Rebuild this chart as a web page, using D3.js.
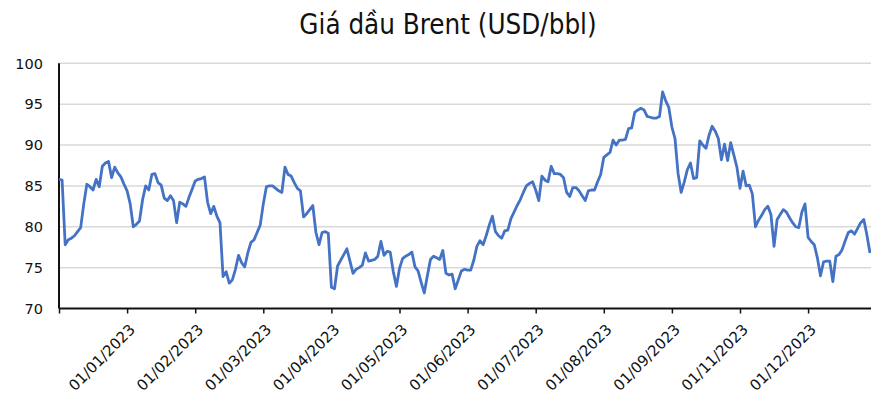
<!DOCTYPE html>
<html>
<head>
<meta charset="utf-8">
<script src="https://cdn.jsdelivr.net/npm/d3@7"></script>
<style>
  body { margin: 0; background: #fff; }
  svg { display: block; }
</style>
</head>
<body>
<div id="chart"></div>
<script>
// Brent daily closes, one value per trading day
var prices = [
  // to 01/01
  85.8, 85.7, 77.8, 78.4, 78.6, 78.9, 79.4, 79.9, 82.8, 85.2, 84.9, 84.5, 85.8, 84.9, 87.4, 87.8, 88.0, 86.0, 87.3, 86.6, 86.1, 85.2, 84.4,
  // to 01/02
  82.8, 80.0, 80.3, 80.7, 83.3, 85.0, 84.5, 86.4, 86.5, 85.4, 85.1, 83.5, 83.2, 83.8, 83.2, 80.5, 83.0, 82.8, 82.5, 83.6, 84.6, 85.6,
  // to 01/03
  85.8, 85.9, 86.1, 83.0, 81.6, 82.5, 81.3, 80.5, 73.9, 74.5, 73.1, 73.5, 74.8, 76.5, 75.6, 75.1, 76.8, 78.1, 78.4, 79.3, 80.2, 82.8,
  // to 01/04
  84.9, 85.0, 85.0, 84.7, 84.4, 84.2, 87.3, 86.4, 86.2, 85.4, 84.7, 84.4, 81.2, 81.6, 82.1, 82.6, 79.3, 77.8, 79.3, 79.4, 79.2, 72.6,
  // to 01/05
  72.4, 75.2, 75.9, 76.6, 77.3, 75.8, 74.3, 74.8, 75.0, 75.3, 76.8, 75.8, 75.9, 76.0, 76.4, 78.2, 76.5, 77.0, 76.9, 74.5, 72.7, 74.9,
  // to 01/06
  76.1, 76.4, 76.6, 76.9, 75.1, 74.6, 73.2, 71.9, 74.0, 76.0, 76.4, 76.2, 76.0, 77.1, 74.3, 74.1, 74.2, 72.4, 73.5, 74.6, 74.8, 74.7,
  // to 01/07
  74.7, 75.9, 77.6, 78.3, 77.8, 78.9, 80.2, 81.3, 79.4, 78.9, 78.6, 79.5, 79.6, 81.0, 81.8, 82.6, 83.3, 84.2, 85.0, 85.3, 85.5, 84.5,
  // to 01/08
  83.2, 86.2, 85.7, 85.5, 87.4, 86.5, 86.5, 86.4, 86.0, 84.2, 83.7, 84.8, 84.8, 84.4, 83.8, 83.2, 84.4, 84.5, 84.5, 85.5, 86.4, 88.5,
  // to 01/09
  88.8, 89.1, 90.6, 90.0, 90.6, 90.6, 90.7, 92.0, 92.1, 94.0, 94.3, 94.5, 94.3, 93.5, 93.4, 93.3, 93.3, 93.5, 96.5, 95.4, 94.6, 92.2,
  // to 01/11
  90.8, 86.5, 84.2, 85.5, 87.0, 87.8, 85.9, 86.0, 90.5, 90.0, 89.6, 91.2, 92.3, 91.7, 90.8, 88.2, 90.1, 88.1, 90.3, 88.8, 87.3, 84.7,
  // to 01/12
  86.8, 85.0, 85.1, 84.0, 80.0, 80.8, 81.4, 82.1, 82.5, 81.5, 77.6, 80.9, 81.5, 82.1, 81.8, 81.1, 80.5, 80.0, 79.9, 81.8, 82.8, 78.7,
  // December
  78.2, 77.8, 76.2, 74.0, 75.7, 75.8, 75.8, 73.3, 76.4, 76.6, 77.2, 78.3, 79.3, 79.5, 79.1, 79.8, 80.5, 80.9, 79.0, 76.8
];

// category labels shown every 22 trading days
var tickIndex = [22, 44, 66, 88, 110, 132, 154, 176, 198, 220, 242];
var tickLabels = ["01/01/2023", "01/02/2023", "01/03/2023", "01/04/2023", "01/05/2023", "01/06/2023",
                  "01/07/2023", "01/08/2023", "01/09/2023", "01/11/2023", "01/12/2023"];
var yTicks = [70, 75, 80, 85, 90, 95, 100];

var width = 871, height = 401;
var plotLeft = 59, plotRight = 870, plotTop = 63.3, plotBottom = 308.5;

var svg = d3.select("#chart").append("svg")
    .attr("width", width)
    .attr("height", height);

var x = d3.scaleLinear().domain([0, prices.length - 1]).range([plotLeft, plotRight]);
var y = d3.scaleLinear().domain([70, 100]).range([plotBottom, plotTop]);

// title
svg.append("text")
    .attr("x", 448)
    .attr("y", 34)
    .attr("text-anchor", "middle")
    .style("font-family", "'DejaVu Sans Condensed', 'DejaVu Sans', sans-serif")
    .style("font-size", "27.5px")
    .style("fill", "#111")
    .text("Giá dầu Brent (USD/bbl)");

// gridlines
svg.append("g")
    .selectAll("line")
    .data(yTicks.slice(1))
    .enter().append("line")
    .attr("x1", plotLeft)
    .attr("x2", width)
    .attr("y1", function(d) { return y(d); })
    .attr("y2", function(d) { return y(d); })
    .style("stroke", "#d9d9d9")
    .style("stroke-width", 1.5);

// y axis labels
svg.append("g")
    .selectAll("text")
    .data(yTicks)
    .enter().append("text")
    .attr("x", 43)
    .attr("y", function(d) { return y(d); })
    .attr("dy", "0.36em")
    .attr("text-anchor", "end")
    .style("font-family", "'DejaVu Sans', sans-serif")
    .style("font-size", "14.5px")
    .style("fill", "#111")
    .text(function(d) { return d; });

// x axis with ticks below the line
var xAxis = d3.axisBottom(x)
    .tickValues([0].concat(tickIndex))
    .tickSize(5)
    .tickFormat("");

var gx = svg.append("g")
    .attr("transform", "translate(0," + plotBottom + ")")
    .call(xAxis);
gx.select(".domain").remove();
gx.selectAll(".tick line").style("stroke", "#111").style("stroke-width", 1.5);

svg.append("line")
    .attr("x1", plotLeft).attr("x2", width)
    .attr("y1", plotBottom).attr("y2", plotBottom)
    .style("stroke", "#111")
    .style("stroke-width", 2);

svg.append("line")
    .attr("x1", plotLeft).attr("x2", plotLeft)
    .attr("y1", plotTop).attr("y2", plotBottom)
    .style("stroke", "#111")
    .style("stroke-width", 2);

// rotated date labels
svg.append("g")
    .selectAll("text")
    .data(tickIndex)
    .enter().append("text")
    .attr("transform", function(d) {
        return "translate(" + (x(d) + 9) + "," + (plotBottom + 22) + ") rotate(-45)";
    })
    .attr("text-anchor", "end")
    .style("font-family", "'DejaVu Sans', sans-serif")
    .style("font-size", "15px")
    .style("fill", "#111")
    .text(function(d, i) { return tickLabels[i]; });

// price line
var line = d3.line()
    .x(function(d, i) { return x(i); })
    .y(function(d) { return y(d); });

svg.append("path")
    .datum(prices)
    .attr("d", line)
    .style("fill", "none")
    .style("stroke", "#4472c4")
    .style("stroke-width", 2.8)
    .style("stroke-linejoin", "round");
</script>
</body>
</html>
